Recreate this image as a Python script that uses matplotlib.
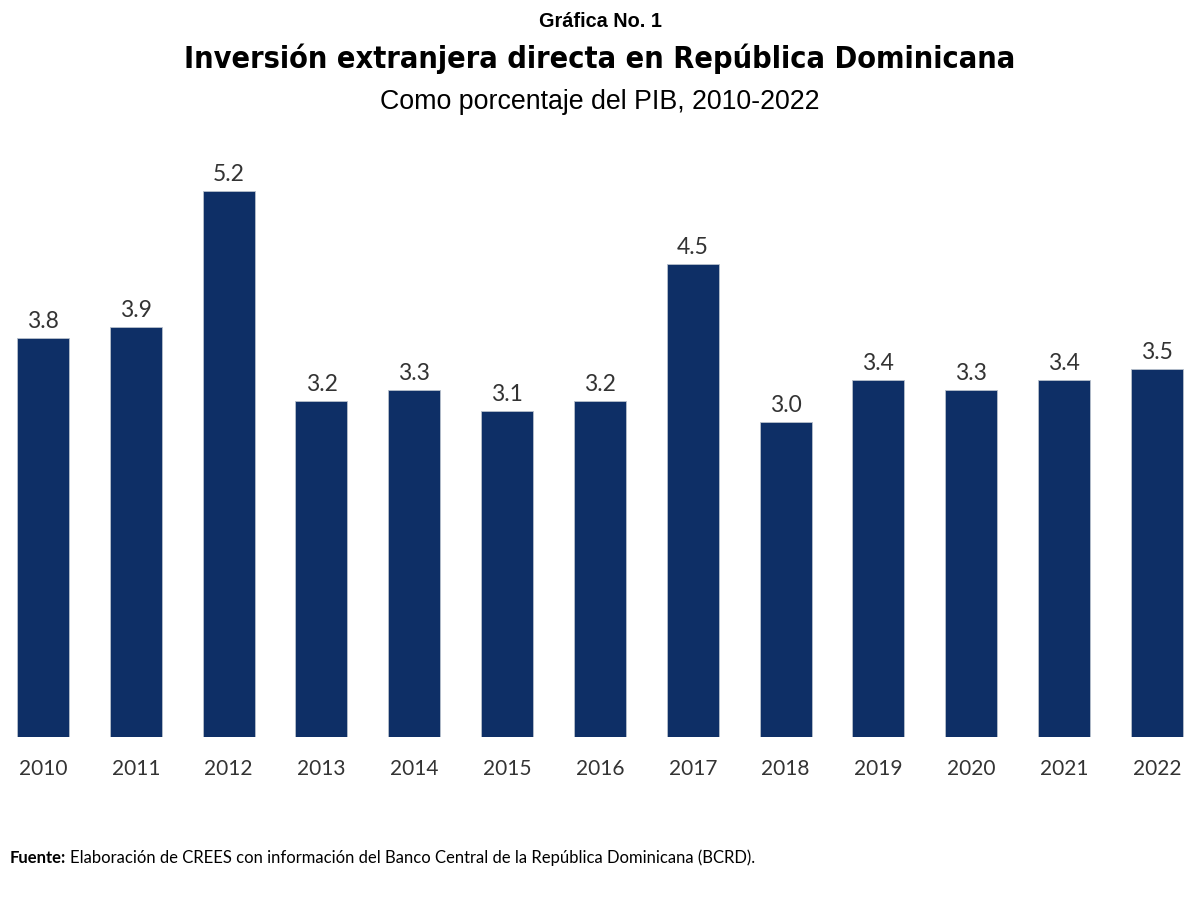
import matplotlib
matplotlib.use('Agg')
import matplotlib.pyplot as plt

# Datos
anios = ['2010', '2011', '2012', '2013', '2014', '2015', '2016',
         '2017', '2018', '2019', '2020', '2021', '2022']
ied_pib = [3.8, 3.9, 5.2, 3.2, 3.3, 3.1, 3.2, 4.5, 3.0, 3.4, 3.3, 3.4, 3.5]

color_barra = '#0e2f66'
color_texto = '#333333'

fig = plt.figure(figsize=(12, 9), dpi=100)
ax = fig.add_axes([0, 0.1811, 1, 0.6522])

x = list(range(len(anios)))
ax.bar(x, ied_pib, width=0.56, color=color_barra,
       edgecolor='#b8c0cc', linewidth=0.6)

for xi, v in zip(x, ied_pib):
    ax.text(xi, v + 0.06, f"{v:.1f}", ha='center', va='bottom',
            fontsize=16.5, family='Lato', color=color_texto)

ax.set_xlim(-0.463, 12.464)
ax.set_ylim(0, 5.59)
ax.set_xticks(x)
ax.set_xticklabels(anios, family='Lato', fontsize=15, color=color_texto)
ax.tick_params(axis='x', length=0, pad=16)
ax.set_yticks([])
for s in ax.spines.values():
    s.set_visible(False)

# Titulos
fig.text(0.5, 0.976, "Gráfica No. 1", ha='center', va='center',
         fontsize=14.3, fontweight='bold', family='Liberation Sans', color='black')
fig.text(0.5, 0.935, "Inversión extranjera directa en República Dominicana",
         ha='center', va='center', fontsize=22, fontweight='bold',
         family='DejaVu Sans', fontstretch='condensed', color='black')
fig.text(0.5, 0.887, "Como porcentaje del PIB, 2010-2022", ha='center', va='center',
         fontsize=19.3, family='Liberation Sans', color='black')

# Fuente
t1 = fig.text(0.008, 0.047, "Fuente:", ha='left', va='center', fontsize=12,
              fontweight='bold', family='Lato', color='black')
fig.canvas.draw()
bb = t1.get_window_extent(renderer=fig.canvas.get_renderer())
x2 = (bb.x1 + 4) / fig.bbox.width
fig.text(x2, 0.047, "Elaboración de CREES con información del Banco Central de la República Dominicana (BCRD).",
         ha='left', va='center', fontsize=12, family='Lato', color='black')

fig.savefig('out.png', dpi=100)
